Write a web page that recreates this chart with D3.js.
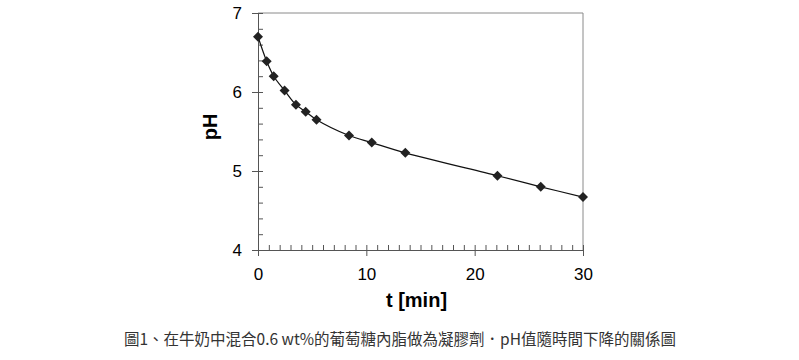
<!DOCTYPE html>
<html>
<head>
<meta charset="utf-8">
<script src="https://cdn.jsdelivr.net/npm/d3@7"></script>
<style>
  body { margin: 0; background: #fff; }
  svg { display: block; }
</style>
</head>
<body>
<div id="chart"></div>
<script>
// data
const timeMin = [0, 0.8, 1.45, 2.45, 3.5, 4.4, 5.4, 8.4, 10.5, 13.6, 22.1, 26.1, 30];
const phValues = [6.7, 6.39, 6.2, 6.02, 5.84, 5.75, 5.65, 5.45, 5.36, 5.23, 4.94, 4.8, 4.67];
const xTicks = [0, 10, 20, 30];
const yTicks = [4, 5, 6, 7];
const caption = "圖1、在牛奶中混合0.6 wt%的葡萄糖內脂做為凝膠劑．pH值隨時間下降的關係圖";

const width = 799, height = 360;
const plot = { left: 258, right: 583, top: 13, bottom: 250 };

const svg = d3.select("#chart").append("svg")
  .attr("width", width)
  .attr("height", height);

const x = d3.scaleLinear().domain([0, 30]).range([plot.left, plot.right]);
const y = d3.scaleLinear().domain([4, 7]).range([plot.bottom, plot.top]);

// frame (top and right)
svg.append("path")
  .attr("d", `M${plot.left},${plot.top}H${plot.right}V${plot.bottom}`)
  .attr("fill", "none")
  .attr("stroke", "#8a8a8a")
  .attr("stroke-width", 1);

// minor ticks inside
const xMinor = svg.append("g")
  .attr("transform", `translate(0,${plot.bottom})`)
  .call(d3.axisTop(x).tickValues(d3.range(0, 31, 1)).tickSize(5).tickFormat(""));
const yMinor = svg.append("g")
  .attr("transform", `translate(${plot.left},0)`)
  .call(d3.axisRight(y).tickValues(d3.range(4, 7.01, 0.2)).tickSize(5).tickFormat(""));
[xMinor, yMinor].forEach(g => {
  g.select(".domain").remove();
  g.selectAll("line").attr("stroke", "#555");
});

// main axes
const xAxis = svg.append("g")
  .attr("transform", `translate(0,${plot.bottom})`)
  .call(d3.axisBottom(x).tickValues(xTicks).tickSize(6).tickPadding(12).tickFormat(d3.format("d")));
const yAxis = svg.append("g")
  .attr("transform", `translate(${plot.left},0)`)
  .call(d3.axisLeft(y).tickValues(yTicks).tickSize(6).tickPadding(10).tickFormat(d3.format("d")));
[xAxis, yAxis].forEach(g => {
  g.select(".domain").attr("stroke", "#555");
  g.selectAll("line").attr("stroke", "#555");
  g.selectAll("text")
    .attr("fill", "#000")
    .style("font-family", "'Liberation Sans', Arial, sans-serif")
    .style("font-size", "17px");
});

// smooth line
const points = timeMin.map((t, i) => ({ t, ph: phValues[i] }));
const line = d3.line()
  .x(d => x(d.t))
  .y(d => y(d.ph))
  .curve(d3.curveCatmullRom.alpha(0.5));

svg.append("path")
  .datum(points)
  .attr("d", line)
  .attr("fill", "none")
  .attr("stroke", "#111")
  .attr("stroke-width", 1.2);

// diamond markers
const diamond = d3.symbol().type(d3.symbolSquare).size(50);
svg.append("g")
  .selectAll("path")
  .data(points)
  .join("path")
  .attr("d", diamond)
  .attr("transform", d => `translate(${x(d.t)},${y(d.ph)}) rotate(45)`)
  .attr("fill", "#222");

// axis titles
svg.append("text")
  .attr("x", (plot.left + plot.right) / 2 - 4)
  .attr("y", 307)
  .attr("text-anchor", "middle")
  .style("font-family", "'Liberation Sans', Arial, sans-serif")
  .style("font-size", "20px")
  .style("font-weight", "bold")
  .text("t [min]");

svg.append("text")
  .attr("transform", "translate(217,127) rotate(-90)")
  .attr("text-anchor", "middle")
  .style("font-family", "'Liberation Sans', Arial, sans-serif")
  .style("font-size", "20px")
  .style("font-weight", "bold")
  .text("pH");

// caption
svg.append("text")
  .attr("x", 400)
  .attr("y", 345)
  .attr("text-anchor", "middle")
  .attr("fill", "#333")
  .style("font-family", "'Noto Sans CJK TC', 'Open Sans', sans-serif")
  .style("font-size", "15.5px")
  .text(caption);
</script>
</body>
</html>
